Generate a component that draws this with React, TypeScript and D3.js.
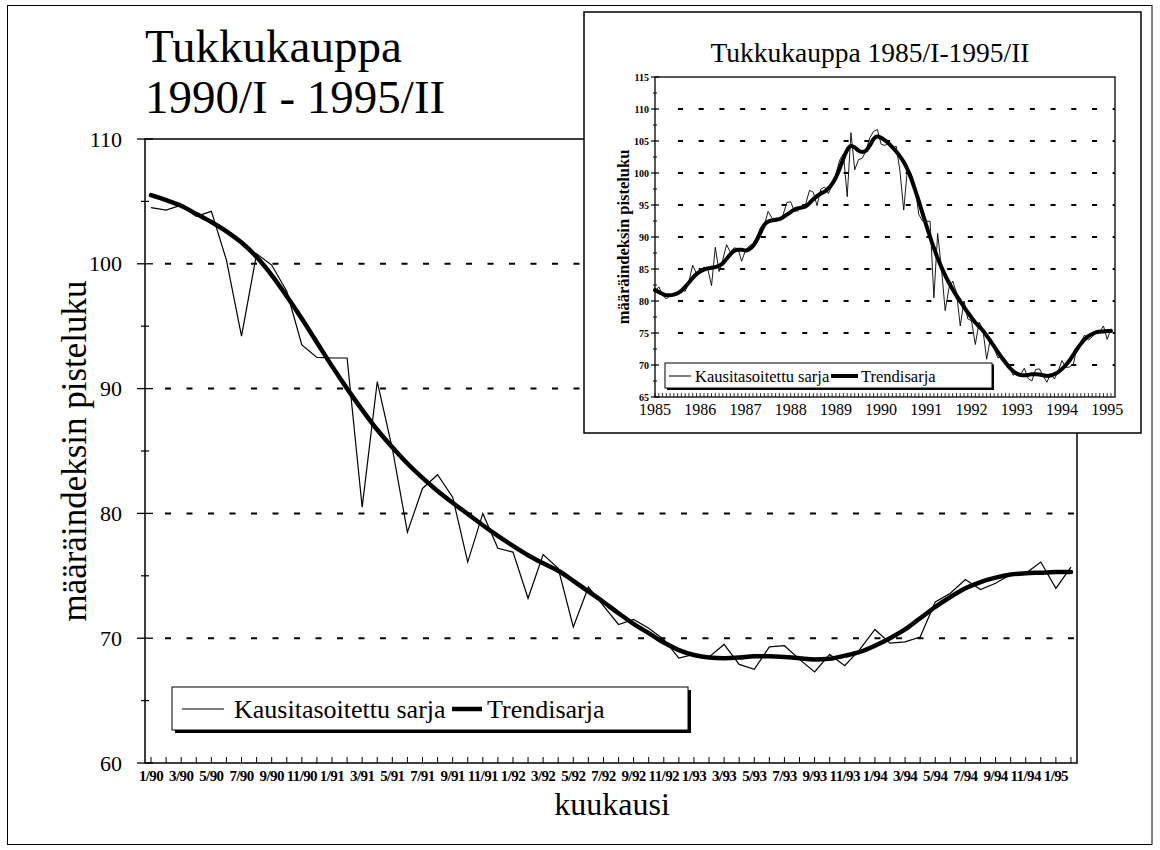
import React from "react";
import * as d3 from "d3";

// ---------- DATA ----------
// main chart: monthly, 1/1990 .. 2/1995
const mainYears = [90, 91, 92, 93, 94, 95];
const monthLabels: string[] = mainYears
  .flatMap((y) => d3.range(1, 13).map((m) => `${m}/${y}`))
  .slice(0, 62);

// Kausitasoitettu sarja (seasonally adjusted), 1/90 - 2/95
const sarjaMain = [
  104.5, 104.3, 104.7, 103.8, 104.2, 100.3, 94.2, 100.8, 99.9, 97.8, 93.5, 92.5,
  92.45, 92.45, 80.5, 90.55, 85.2, 78.5, 82.0, 83.1, 81.3, 76.1, 80.0, 77.2,
  76.9, 73.2, 76.7, 75.6, 70.9, 74.1, 72.6, 71.1, 71.5, 70.8, 69.9, 68.4,
  68.7, 68.5, 69.5, 67.9, 67.5, 69.3, 69.4, 68.3, 67.3, 68.7, 67.8, 69.1,
  70.7, 69.6, 69.7, 70.1, 72.9, 73.6, 74.7, 73.9, 74.4, 75.1, 75.2, 76.1,
  74.0, 75.7,
];

// Trendisarja, 1/90 - 2/95
const trendMain = [
  105.5, 105.1, 104.65, 104.0, 103.35, 102.6, 101.7, 100.55, 99.1, 97.4, 95.6, 93.7,
  91.8, 90.0, 88.3, 86.7, 85.3, 84.0, 82.85, 81.8, 80.85, 79.95, 79.05, 78.2,
  77.4, 76.65, 76.0, 75.4, 74.6, 73.75, 72.9, 72.0, 71.15, 70.4, 69.65, 69.05,
  68.65, 68.45, 68.4, 68.45, 68.55, 68.55, 68.5, 68.4, 68.3, 68.35, 68.6, 68.9,
  69.4, 70.0, 70.7, 71.6, 72.5, 73.3, 74.0, 74.5, 74.85, 75.1, 75.2, 75.25,
  75.3, 75.3,
];

// inset: 1/1985 .. 12/1989 (continues with the main data above)
const sarja8589 = [
  81.5, 82.2, 81.0, 80.3, 80.9, 81.2, 81.0, 81.8, 81.5, 83.0, 85.6, 84.3,
  84.8, 85.3, 85.0, 82.4, 88.4, 84.6, 86.5, 88.8, 87.6, 88.3, 88.2, 86.2,
  87.9, 88.6, 89.0, 90.0, 91.5, 91.8, 94.0, 93.0, 92.4, 92.7, 93.5, 95.4,
  95.5, 94.0, 94.1, 94.9, 95.2, 97.3, 97.0, 94.9, 97.5, 97.8, 96.8, 98.0,
  99.8, 102.0, 103.0, 96.3, 106.3, 100.5, 102.1, 102.3, 103.5, 105.5, 106.5, 106.8,
];
const trend8589 = [
  81.7, 81.4, 81.1, 80.9, 80.9, 81.0, 81.2, 81.6, 82.2, 82.9, 83.6, 84.2,
  84.6, 84.9, 85.1, 85.2, 85.3, 85.5, 85.9, 86.6, 87.3, 87.8, 88.0, 88.0,
  87.9, 88.1, 88.6, 89.5, 90.7, 91.9, 92.4, 92.6, 92.7, 92.8, 93.1, 93.5,
  93.9, 94.3, 94.5, 94.6, 94.8, 95.3, 95.9, 96.4, 96.8, 97.1, 97.6, 98.3,
  99.3, 100.7, 102.3, 103.6, 104.2, 104.0, 103.5, 103.3, 103.5, 104.3, 105.3, 105.7,
];
const insetYears = [1985, 1986, 1987, 1988, 1989, 1990, 1991, 1992, 1993, 1994, 1995];

const mainYTicks = [60, 70, 80, 90, 100, 110];
const mainYMinor = [65, 75, 85, 95, 105];
const mainGrid = [70, 80, 90, 100];
const insetYTicks = [65, 70, 75, 80, 85, 90, 95, 100, 105, 110, 115];
const insetGrid = [70, 75, 80, 85, 90, 95, 100, 105, 110];

const TITLE1 = "Tukkukauppa";
const TITLE2 = "1990/I - 1995/II";
const INSET_TITLE = "Tukkukauppa 1985/I-1995/II";
const Y_TITLE = "määräindeksin pisteluku";
const X_TITLE = "kuukausi";
const LEG1 = "Kausitasoitettu sarja";
const LEG2 = "Trendisarja";

const FONT = "'Liberation Serif', 'Times New Roman', serif";

export default function App() {
  // main scales
  const xM = d3.scalePoint<string>().domain(monthLabels).range([145, 1077]).padding(0.4);
  const yM = d3.scaleLinear().domain([60, 110]).range([763, 139]);
  const lineM = d3
    .line<number>()
    .x((_, i) => xM(monthLabels[i]) as number)
    .y((d) => yM(d));
  const lineMs = d3
    .line<number>()
    .x((_, i) => xM(monthLabels[i]) as number)
    .y((d) => yM(d))
    .curve(d3.curveMonotoneX);

  // inset scales
  const sarjaAll = sarja8589.concat(sarjaMain);
  const trendAll = trend8589.concat(trendMain);
  const xI = d3.scaleLinear().domain([0, sarjaAll.length - 1]).range([655, 1111]);
  const yI = d3.scaleLinear().domain([65, 115]).range([397, 77]);
  const lineI = d3
    .line<number>()
    .x((_, i) => xI(i))
    .y((d) => yI(d));
  const lineIs = d3
    .line<number>()
    .x((_, i) => xI(i))
    .y((d) => yI(d))
    .curve(d3.curveMonotoneX);

  const mL = 145, mR = 1077, mT = 139, mB = 763;
  const iL = 655, iR = 1115, iT = 77, iB = 397;

  return (
    <svg
      width={1160}
      height={850}
      style={{ position: "absolute", left: 0, top: 0, display: "block" }}
      fontFamily={FONT}
    >
      <rect x={0} y={0} width={1160} height={850} fill="#fff" />
      <rect x={7.5} y={5.5} width={1144.5} height={839} fill="none" stroke="#000" strokeWidth={1} />

      {/* main title */}
      <text x={145} y={62} fontSize={47}>{TITLE1}</text>
      <text x={145} y={113} fontSize={47}>{TITLE2}</text>

      {/* main gridlines */}
      {mainGrid.map((v) => (
        <line key={v} x1={165} x2={mR} y1={yM(v)} y2={yM(v)} stroke="#000" strokeWidth={2} strokeDasharray="6 15.5" />
      ))}

      {/* main plot border */}
      <rect x={mL} y={mT} width={mR - mL} height={mB - mT} fill="none" stroke="#000" strokeWidth={1.5} />

      {/* main y ticks */}
      {mainYTicks.map((v) => (
        <g key={v}>
          <line x1={mL - 8} x2={mL + 8} y1={yM(v)} y2={yM(v)} stroke="#000" strokeWidth={1.3} />
          <text x={122} y={yM(v) + 7.5} fontSize={22} textAnchor="end">{v}</text>
        </g>
      ))}
      {mainYMinor.map((v) => (
        <line key={v} x1={mL - 4} x2={mL + 4} y1={yM(v)} y2={yM(v)} stroke="#000" strokeWidth={1.2} />
      ))}

      {/* main x ticks + labels */}
      {monthLabels.map((m) => (
        <line key={m} x1={xM(m)} x2={xM(m)} y1={mB} y2={mB - 6} stroke="#000" strokeWidth={1} />
      ))}
      {monthLabels.map((m, i) =>
        i % 2 === 0 ? (
          <text key={m} x={xM(m)} y={781} fontSize={15} fontWeight="bold" textAnchor="middle" letterSpacing={-0.6}>
            {m}
          </text>
        ) : null
      )}

      {/* axis titles */}
      <text x={612} y={815} fontSize={32} textAnchor="middle">{X_TITLE}</text>
      <text transform={`translate(86,451) rotate(-90)`} fontSize={35} textAnchor="middle">{Y_TITLE}</text>

      {/* main series */}
      <path d={lineM(sarjaMain) || ""} fill="none" stroke="#000" strokeWidth={1.2} strokeLinejoin="miter" />
      <path d={lineMs(trendMain) || ""} fill="none" stroke="#000" strokeWidth={4.5} strokeLinecap="round" />

      {/* main legend */}
      <rect x={175} y={690} width={516} height={43} fill="#000" />
      <rect x={172} y={687} width={516} height={43} fill="#fff" stroke="#000" strokeWidth={1} />
      <line x1={182} x2={224} y1={709} y2={709} stroke="#000" strokeWidth={1.2} />
      <text x={234} y={718} fontSize={26}>{LEG1}</text>
      <line x1={452} x2={482} y1={709} y2={709} stroke="#000" strokeWidth={4.5} />
      <text x={487} y={718} fontSize={26}>{LEG2}</text>

      {/* ---------- INSET ---------- */}
      <rect x={584} y={12} width={557} height={421} fill="#fff" stroke="#000" strokeWidth={1.5} />
      <text x={870} y={62} fontSize={27.5} textAnchor="middle">{INSET_TITLE}</text>

      {insetGrid.map((v) => (
        <line key={v} x1={678} x2={iR} y1={yI(v)} y2={yI(v)} stroke="#000" strokeWidth={2} strokeDasharray="5 15.7" />
      ))}
      <rect x={iL} y={iT} width={iR - iL} height={iB - iT} fill="none" stroke="#000" strokeWidth={1.3} />

      {insetYTicks.map((v) => (
        <g key={v}>
          <line x1={iL - 4} x2={iL + 4} y1={yI(v)} y2={yI(v)} stroke="#000" strokeWidth={1.2} />
          <text x={649} y={yI(v) + 3.5} fontSize={10} fontWeight="bold" textAnchor="end">{v}</text>
        </g>
      ))}
      {insetYTicks.slice(0, -1).map((v) => (
        <line key={v} x1={iL - 2} x2={iL + 2} y1={yI(v + 2.5)} y2={yI(v + 2.5)} stroke="#000" strokeWidth={1} />
      ))}
      {sarjaAll.map((_, i) => (
        <line key={i} x1={xI(i)} x2={xI(i)} y1={iB} y2={iB - 4} stroke="#000" strokeWidth={0.8} />
      ))}
      {insetYears.map((y, k) => (
        <text key={y} x={xI(k * 12)} y={415} fontSize={16} textAnchor="middle">{y}</text>
      ))}
      <text transform={`translate(629,237) rotate(-90)`} fontSize={16.5} fontWeight="bold" textAnchor="middle">{Y_TITLE}</text>

      <path d={lineI(sarjaAll) || ""} fill="none" stroke="#000" strokeWidth={0.9} />
      <path d={lineIs(trendAll) || ""} fill="none" stroke="#000" strokeWidth={4} strokeLinecap="round" />

      {/* inset legend */}
      <rect x={667} y={365} width={327} height={25} fill="#000" />
      <rect x={665} y={363} width={327} height={25} fill="#fff" stroke="#000" strokeWidth={1} />
      <line x1={669} x2={691} y1={376} y2={376} stroke="#000" strokeWidth={1} />
      <text x={695} y={382} fontSize={16.5}>{LEG1}</text>
      <line x1={831} x2={858} y1={376} y2={376} stroke="#000" strokeWidth={4} />
      <text x={861} y={382} fontSize={16.5}>{LEG2}</text>
    </svg>
  );
}
